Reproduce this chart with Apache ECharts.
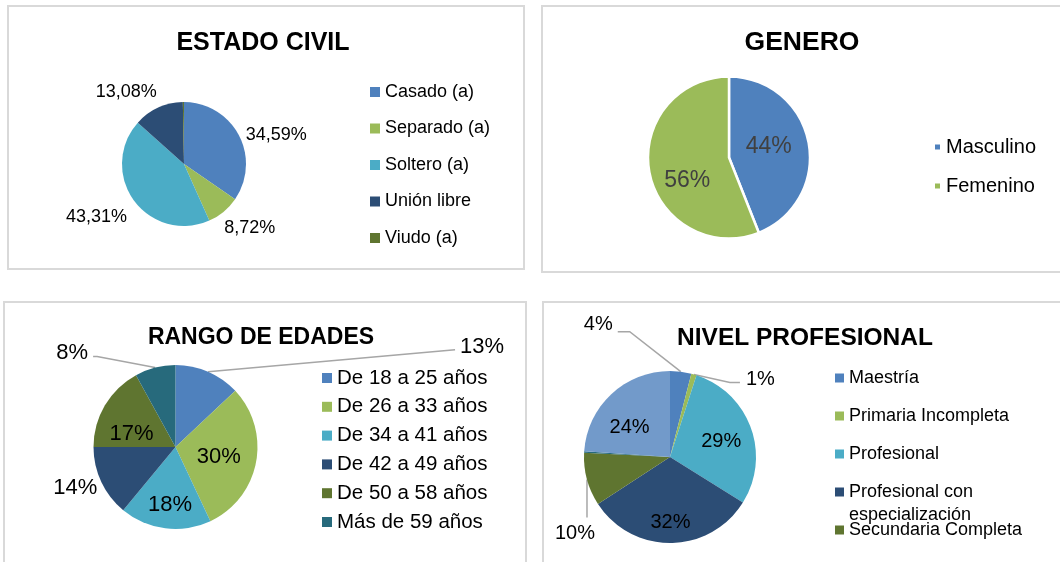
<!DOCTYPE html>
<html>
<head>
<meta charset="utf-8">
<script src="https://cdn.jsdelivr.net/npm/echarts@6/dist/echarts.min.js"></script>
<style>
  html, body { margin: 0; padding: 0; background: #ffffff; }
  #chart { width: 1060px; height: 562px; }
</style>
</head>
<body>
<div id="chart"></div>
<script>
// ---- Data ----
const civilTitle = 'ESTADO CIVIL';
const civilCategories = ['Casado (a)', 'Separado (a)', 'Soltero (a)', 'Unión libre', 'Viudo (a)'];
const civilValues = [34.59, 8.72, 43.31, 13.08, 0.30];

const generoTitle = 'GENERO';
const generoCategories = ['Masculino', 'Femenino'];
const generoValues = [44, 56];

const edadTitle = 'RANGO DE EDADES';
const edadCategories = ['De 18 a 25 años', 'De 26 a 33 años', 'De 34 a 41 años', 'De 42 a 49 años', 'De 50 a 58 años', 'Más de 59 años'];
const edadValues = [13, 30, 18, 14, 17, 8];

const nivelTitle = 'NIVEL PROFESIONAL';
const nivelCategories = ['Maestría', 'Primaria Incompleta', 'Profesional', 'Profesional con especialización', 'Secundaria Completa', 'Técnico', 'Tecnólogo'];
const nivelValues = [4, 1, 29, 32, 10, 0.3, 24];

// ---- Styling ----
const FONT = '"Liberation Sans", Arial, sans-serif';
const palette = ['#4F81BD', '#9BBB59', '#4BACC6', '#2C4D75', '#5F7530', '#276A7C', '#729ACA'];

function pieData(names, values, cfg) {
  return names.map(function (n, i) {
    return {
      name: n,
      value: values[i],
      itemStyle: { color: palette[i] },
      label: { show: cfg.hidden.indexOf(i) < 0, position: cfg.inside.indexOf(i) >= 0 ? 'inside' : 'outside' },
      labelLine: { show: cfg.lines.indexOf(i) >= 0 }
    };
  });
}

// label fine-tuning (offsets relative to library-computed label / slice edge)
const nudges = {
  0: { 1: [-6, 16], 2: [0, 16], 3: [5, -15] },
  1: { 0: [-3, -3], 1: [1, 15] },
  2: { 1: [0, 2], 2: [0, 14], 3: [3, 6], 4: [-6, 9] },
  3: { 2: [8, 0], 3: [0, 19], 6: [-9, 4] }
};
const guides = {
  2: {
    0: { bend: [247, -22], end: [247, -22], text: [252, -25], align: 'left' },
    5: { bend: [-58, -11], end: [-62, -11], text: [-67, -15], align: 'right' }
  },
  3: {
    0: { bend: [-51, -40], end: [-63, -40], text: [-68, -47], align: 'right' },
    1: { bend: [36, 8], end: [46, 8], text: [52, 5], align: 'left' },
    4: { bend: [0, 38], end: [0, 38], text: [-12, 54], align: 'center' }
  }
};
function layoutLabel(p) {
  const g = guides[p.seriesIndex] && guides[p.seriesIndex][p.dataIndex];
  if (g && p.labelLinePoints && p.labelLinePoints.length) {
    const p0 = p.labelLinePoints[0];
    return {
      x: p0[0] + g.text[0], y: p0[1] + g.text[1], align: g.align, verticalAlign: 'middle',
      labelLinePoints: [
        [p0[0], p0[1]],
        [p0[0] + g.bend[0], p0[1] + g.bend[1]],
        [p0[0] + g.end[0], p0[1] + g.end[1]]
      ]
    };
  }
  const n = nudges[p.seriesIndex] && nudges[p.seriesIndex][p.dataIndex];
  if (n) {
    return { x: p.labelRect.x + n[0], y: p.labelRect.y + n[1], align: 'left', verticalAlign: 'top' };
  }
  return {};
}

function pctInt(p) { return Math.round(p.value) + '%'; }
function pctDec(p) { return p.value.toFixed(2).replace('.', ',') + '%'; }

function titleCfg(text, x, y, size) {
  return {
    text: text, left: x, top: y, padding: 0, textAlign: 'center', textVerticalAlign: 'middle',
    textStyle: { fontFamily: FONT, fontSize: size, fontWeight: 'bold', color: '#000' }
  };
}
function legendCfg(names, x, y, box, gap, size, lh, extra) {
  return Object.assign({
    data: names, orient: 'vertical', left: x, top: y, padding: 0,
    itemWidth: box, itemHeight: box, itemGap: gap, icon: 'rect',
    selectedMode: false,
    textStyle: { fontFamily: FONT, fontSize: size, lineHeight: lh, color: '#000' }
  }, extra || {});
}
function borderRect(x, y, w, h) {
  return { type: 'rect', shape: { x: x, y: y, width: w, height: h }, style: { fill: 'none', stroke: '#D9D9D9', lineWidth: 2 }, silent: true };
}

const chart = echarts.init(document.getElementById('chart'), null, { renderer: 'canvas' });

const option = {
  animation: false,
  backgroundColor: '#ffffff',
  graphic: [
    borderRect(8, 6, 516, 263),
    borderRect(542, 6, 530, 266),
    borderRect(4, 302, 522, 280),
    borderRect(543, 302, 530, 280)
  ],
  title: [
    titleCfg(civilTitle, 263, 43, 25),
    titleCfg(generoTitle, 802, 43, 26.5),
    titleCfg(edadTitle, 261, 338, 23),
    titleCfg(nivelTitle, 805, 338, 24.5)
  ],
  legend: [
    legendCfg(civilCategories, 370, 82, 10, 16.5, 18, 20),
    legendCfg(generoCategories, 933, 136, 7, 17, 20, 22),
    legendCfg(edadCategories, 322, 367, 10, 6.8, 20.5, 22),
    legendCfg(nivelCategories.slice(0, 3), 835, 368, 9, 18, 18, 20),
    legendCfg([nivelCategories[3]], 835, 457.5, 9, 0, 18, 23, {
      formatter: function (name) { return '\nProfesional con\nespecialización'; }
    }),
    legendCfg([nivelCategories[4]], 835, 520, 9, 0, 18, 20)
  ],
  series: [
    {
      type: 'pie', center: [184, 164], radius: 62, startAngle: 90, clockwise: true,
      avoidLabelOverlap: false, silent: true,
      itemStyle: { borderWidth: 0 },
      label: { fontFamily: FONT, fontSize: 18, color: '#000', formatter: pctDec },
      labelLine: { length: 1, length2: 1 },
      labelLayout: layoutLabel,
      data: pieData(civilCategories, civilValues, { inside: [], hidden: [4], lines: [] })
    },
    {
      type: 'pie', center: [729, 157.5], radius: 81, startAngle: 90, clockwise: true,
      avoidLabelOverlap: false, silent: true,
      itemStyle: { borderWidth: 2.5, borderColor: '#ffffff' },
      label: { fontFamily: FONT, fontSize: 23, color: '#404040', formatter: pctInt },
      labelLine: { length: 1, length2: 1 },
      labelLayout: layoutLabel,
      data: pieData(generoCategories, generoValues, { inside: [0, 1], hidden: [], lines: [] })
    },
    {
      type: 'pie', center: [175.5, 447], radius: 82, startAngle: 90, clockwise: true,
      avoidLabelOverlap: false, silent: true,
      itemStyle: { borderWidth: 0 },
      label: { fontFamily: FONT, fontSize: 22, color: '#000', formatter: pctInt },
      labelLine: { length: 1, length2: 1, lineStyle: { color: '#A6A6A6', width: 1.5 } },
      labelLayout: layoutLabel,
      data: pieData(edadCategories, edadValues, { inside: [1, 2, 4], hidden: [], lines: [0, 5] })
    },
    {
      type: 'pie', center: [670, 457], radius: 86, startAngle: 90, clockwise: true,
      avoidLabelOverlap: false, silent: true,
      itemStyle: { borderWidth: 0 },
      label: { fontFamily: FONT, fontSize: 20, color: '#000', formatter: pctInt },
      labelLine: { length: 1, length2: 1, lineStyle: { color: '#A6A6A6', width: 1.5 } },
      labelLayout: layoutLabel,
      data: pieData(nivelCategories, nivelValues, { inside: [2, 3, 6], hidden: [5], lines: [0, 1, 4] })
    }
  ]
};
chart.setOption(option);
</script>
</body>
</html>
